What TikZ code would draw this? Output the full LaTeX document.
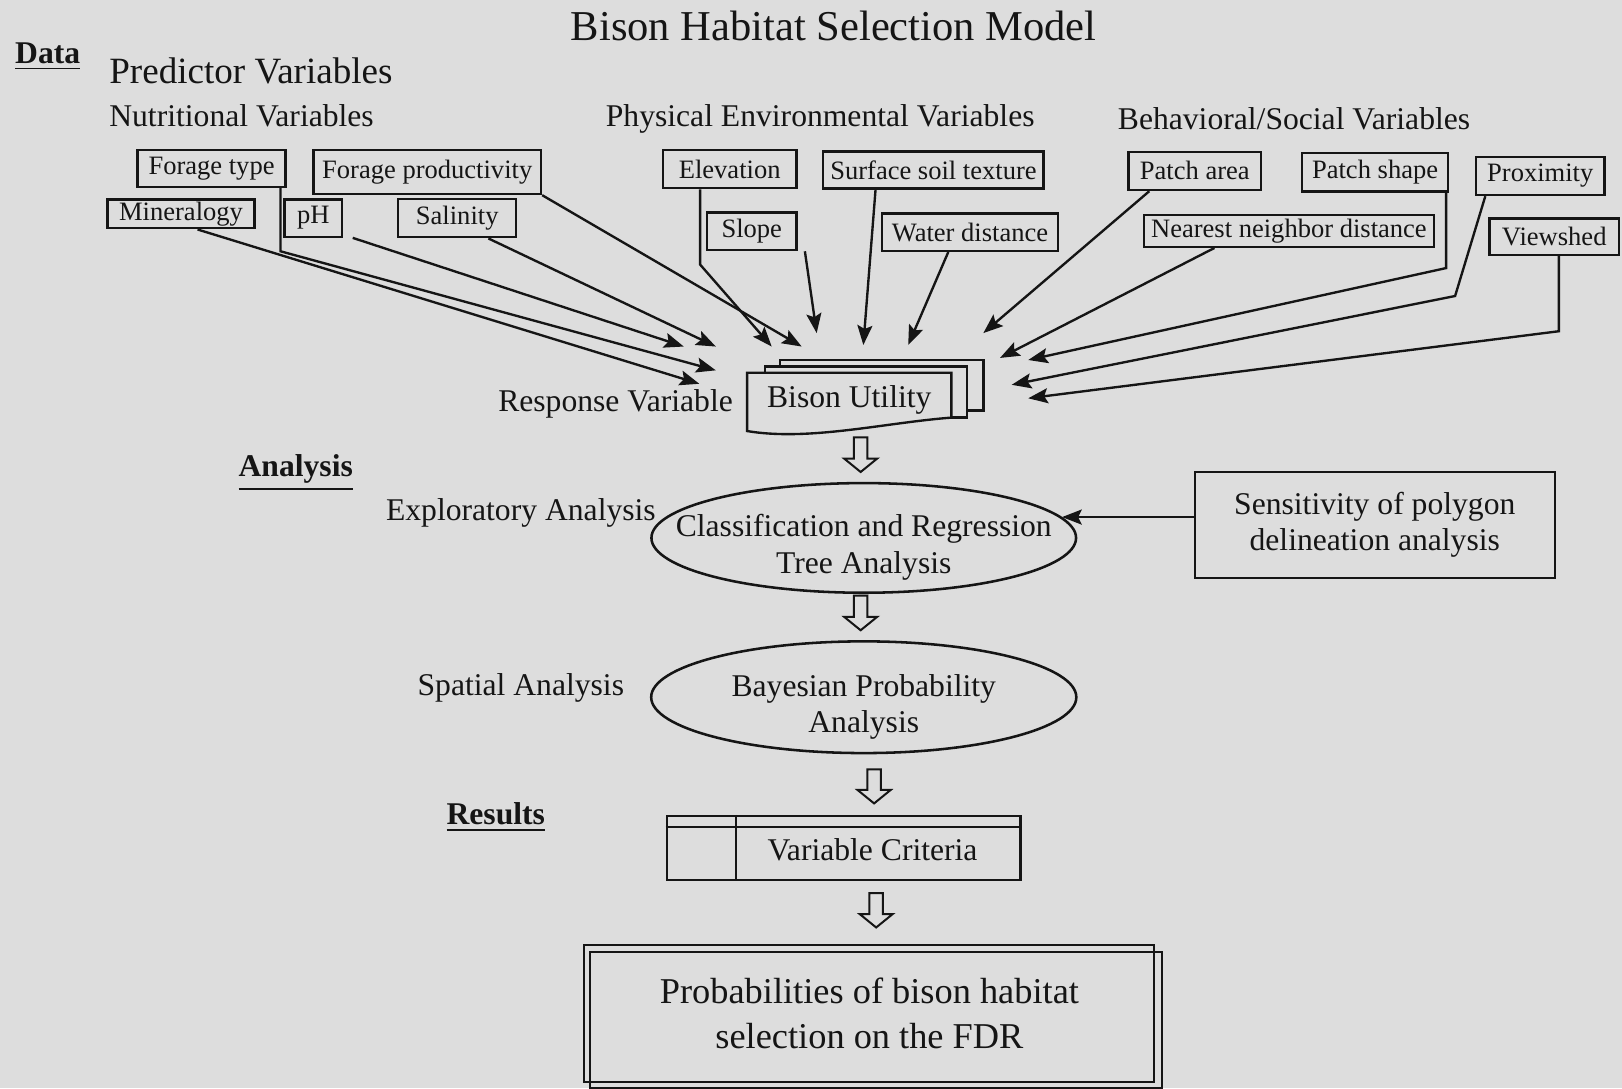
\documentclass[tikz,border=0pt]{standalone}
\usepackage{fontspec}
\setmainfont{Liberation Serif}
\usepackage{tikz}
\usetikzlibrary{arrows.meta,positioning,calc,backgrounds,shapes.geometric}
\definecolor{paper}{HTML}{DDDDDD}
\definecolor{ink}{HTML}{151515}
\tikzset{
  % boxed predictor variable
  var/.style    = {rectangle, draw=ink, line width=0.65pt, inner sep=0pt, text=ink,
                   font=\fontsize{7.3}{8.5}\selectfont},
  lbl/.style    = {inner sep=0pt, text=ink, font=\fontsize{8.7}{10}\selectfont},
  head/.style   = {inner sep=0pt, text=ink, font=\fontsize{8.7}{10}\selectfont\bfseries},
  oval/.style   = {ellipse, draw=ink, line width=0.7pt, inner xsep=0pt, inner ysep=-1mm,
                   align=center, text=ink, font=\fontsize{8.7}{10}\selectfont,
                   text height=21.3pt},
  sheet/.style  = {draw=ink, line width=0.65pt, fill=paper},
  arr/.style    = {-{Stealth[length=1.9mm,width=1.45mm,inset=0.35mm]}, line width=0.65pt, draw=ink},
  % open block arrow, straight down from one stage to the next
  hollow/.style = {draw=ink, line width=0.55pt, fill=paper,
                   to path={let \p1=(\tikztostart), \p2=(\tikztotarget) in
                     (\x1-0.65mm,\y1) -- (\x1+0.65mm,\y1) -- (\x1+0.65mm,\y2+1.3mm)
                     -- (\x1+1.6mm,\y2+1.3mm) -- (\x1,\y2) -- (\x1-1.6mm,\y2+1.3mm)
                     -- (\x1-0.65mm,\y2+1.3mm) -- cycle}},
}
\begin{document}
\begin{tikzpicture}[x=0.1mm,y=-0.1mm]
\useasboundingbox (0,0) rectangle (1568,1052);
\begin{scope}[on background layer]
  \fill[paper] (0,0) rectangle (1568,1052);
\end{scope}

% headings
\node[lbl, font=\fontsize{11.7}{14}\selectfont, anchor=base] (title) at (806,39) {Bison Habitat Selection Model};
\node[head, anchor=base west] (data) at (14,61) {\underline{Data}};
\node[lbl, font=\fontsize{10.2}{12}\selectfont, anchor=base west] (pred) at (105,80.5) {Predictor Variables};
\node[lbl, anchor=base west] (nutr) at (105,122.5) {Nutritional Variables};
\node[lbl, anchor=base west] (phys) at (585,122.5) {Physical Environmental Variables};
\node[lbl, anchor=base west] (behav) at (1080,125.5) {Behavioral/Social Variables};

% nutritional
\node[var, minimum width=14.3mm, minimum height=3.55mm] (ftype) at (204.5,162.8) {Forage type};
\node[var, minimum width=22mm, minimum height=4.25mm] (fprod) at (413,166.3) {Forage productivity};
\node[var, minimum width=14.2mm, minimum height=2.8mm] (miner) at (175,206.7) {Mineralogy};
\node[var, minimum width=5.57mm, minimum height=3.6mm] (ph) at (303,210.8) {pH};
\node[var, minimum width=11.4mm, minimum height=3.67mm] (salin) at (442,211) {Salinity};
% physical environment
\node[var, minimum width=12.9mm, minimum height=3.7mm] (elev) at (705.4,163.5) {Elevation};
\node[var, minimum width=21.3mm, minimum height=3.55mm] (soil) at (902.4,164.3) {Surface soil texture};
\node[var, minimum width=8.65mm, minimum height=3.65mm] (slope) at (726.7,223.5) {Slope};
\node[var, minimum width=17mm, minimum height=3.6mm] (water) at (937.7,224.5) {Water distance};
% behavioral / social
\node[var, minimum width=12.8mm, minimum height=3.7mm] (parea) at (1155,165.2) {Patch area};
\node[var, minimum width=14.1mm, minimum height=3.7mm] (pshape) at (1329.3,166.5) {Patch shape};
\node[var, minimum width=12.4mm, minimum height=3.7mm] (prox) at (1489,170) {Proximity};
\node[var, minimum width=28mm, minimum height=3.07mm] (nnd) at (1246,223.2) {Nearest neighbor distance};
\node[var, minimum width=12.5mm, minimum height=3.55mm] (view) at (1502.5,228.8) {Viewshed};

% response variable: a stack of sheets
\node[lbl, anchor=base west] (resp) at (481,398) {Response Variable};
\node[lbl, minimum width=19.6mm, minimum height=5.1mm] (bison) at (821,386.5) {Bison Utility};
\begin{scope}[on background layer]
  \draw[sheet] ($(bison.north west)+(32,-12)$) rectangle ($(bison.south east)+(31,-16)$);
  \draw[sheet] ($(bison.north west)+(17,-6)$) rectangle ($(bison.south east)+(15,-9)$);
  \draw[sheet] (bison.north west) -- (bison.north east) -- ($(bison.south east)+(0,-9)$)
    .. controls ($(bison.south east)+(-65,-4)$) and ($(bison.south west)+(60,14)$)
    .. ($(bison.south west)+(0,4)$) -- cycle;
\end{scope}

% where the inputs end, round the stack
\coordinate (inPh)  at (661,335);
\coordinate (inSal) at (692,335);
\coordinate (inFty) at (692,358);
\coordinate (inMin) at (676,371);
\coordinate (inFpr) at (775,335);
\coordinate (inElv) at (746,335);
\coordinate (inSlp) at (789.5,322);
\coordinate (inSoil) at (834.6,333.5);
\coordinate (inWat) at (878,333.5);
\coordinate (inPar) at (950.6,322);
\coordinate (inNnd) at (966.7,346);
\coordinate (inPsh) at (994,348);
\coordinate (inPrx) at (978,372);
\coordinate (inVw)  at (994,385);

\draw[arr] ([xshift=1.6mm]miner.south) -- (inMin);
\draw[arr] ([xshift=-0.6mm]ftype.south east) -- ++(0,61.2) -- (inFty);
\draw[arr] ([xshift=0.9mm]ph.south east) -- (inPh);
\draw[arr] ([xshift=-2.8mm]salin.south east) -- (inSal);
\draw[arr] (fprod.south east) -- (inFpr);
\draw[arr] ([xshift=-2.86mm]elev.south) -- ++(0,72.6) -- (inElv);
\draw[arr] ([xshift=0.7mm]slope.south east) -- (inSlp);
\draw[arr] ([xshift=-5.6mm]soil.south) -- (inSoil);
\draw[arr] ([xshift=-2.1mm]water.south) -- (inWat);
\draw[arr] ([xshift=-4.4mm]parea.south) -- (inPar);
\draw[arr] ([xshift=-7.2mm]nnd.south) -- (inNnd);
\draw[arr] ([xshift=-0.3mm]pshape.south east) -- ++(0,73) -- (inPsh);
\draw[arr] ([xshift=1mm]prox.south west) -- ++(-29.2,96.5) -- (inPrx);
\draw[arr] ([xshift=0.45mm]view.south) -- ++(0,72.5) -- (inVw);

% analysis
\node[head, anchor=base west] (anal) at (230,461) {\underline{Analysis}};
\node[lbl, anchor=base west] (expl) at (372.5,502.7) {Exploratory Analysis};
\node[oval, inner xsep=-4.5mm, minimum width=41.05mm, minimum height=10.6mm] (cart) at (835,520)
  {Classification and Regression\\Tree Analysis};
\node[lbl, draw=ink, line width=0.65pt, align=center, minimum width=34.8mm, minimum height=10.3mm]
  (sens) at (1329,507.5) {Sensitivity of polygon\\delineation analysis};
\draw[arr] (sens.west |- cart.6) -- (cart.6);
\node[lbl, anchor=base west] (spat) at (403,672) {Spatial Analysis};
\node[oval, minimum width=41.1mm, minimum height=10.8mm] (bayes) at (835,674)
  {Bayesian Probability\\Analysis};

% results
\node[head, anchor=base west] (res) at (431,797) {\underline{Results}};
\node[var, minimum width=34.2mm, minimum height=6.2mm] (crit) at (815.5,819.8) {};
\draw[ink, line width=0.65pt] ([yshift=-1.2mm]crit.north west) -- ([yshift=-1.2mm]crit.north east);
\draw[ink, line width=0.65pt] ([xshift=6.8mm]crit.north west) -- ([xshift=6.8mm]crit.south west);
\node[lbl, anchor=base] (critlbl) at (843.5,831.4) {Variable Criteria};
\node[draw=ink, line width=0.55pt, inner sep=0pt, minimum width=55.1mm, minimum height=13.25mm,
  align=center, text=ink, font=\fontsize{10}{12.3}\selectfont] (prob) at (840.5,979.8)
  {Probabilities of bison habitat\\selection on the FDR};
\draw[ink, line width=0.55pt] ([shift={(6,7.5)}]prob.north west) rectangle ([shift={(6,4.5)}]prob.south east);

% stage arrows
\draw[hollow] ([xshift=1.1mm,yshift=-1mm]bison.south) to ([yshift=0.95mm]cart.north);
\draw[hollow] ([xshift=-0.3mm,yshift=-0.15mm]cart.south) to ([yshift=0.95mm]bayes.north);
\draw[hollow] ([xshift=1mm,yshift=-1.45mm]bayes.south) to ([yshift=1.1mm]crit.north);
\draw[hollow] ([xshift=3.15mm,yshift=-1.15mm]crit.south) to ([yshift=1.6mm]prob.north);
\end{tikzpicture}
\end{document}
